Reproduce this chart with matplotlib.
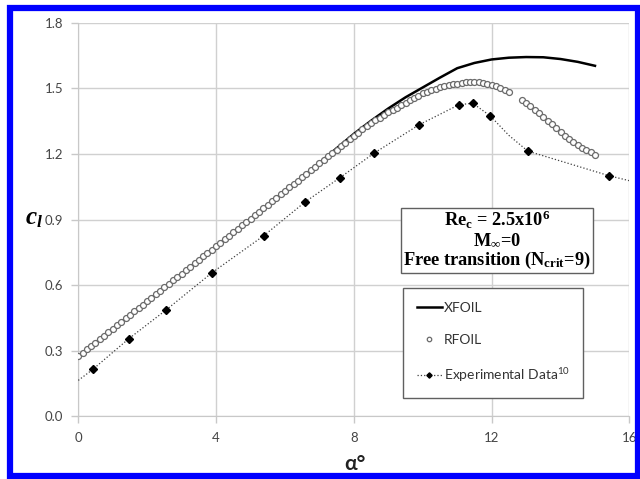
import matplotlib
matplotlib.use("Agg")
import matplotlib.pyplot as plt
from matplotlib.patches import Rectangle

plt.rcParams['mathtext.fontset'] = 'custom'
plt.rcParams['mathtext.rm'] = 'Liberation Serif:bold'
plt.rcParams['mathtext.it'] = 'Liberation Serif:bold:italic'
plt.rcParams['mathtext.bf'] = 'Liberation Serif:bold'
plt.rcParams['mathtext.sf'] = 'Lato'

# XFOIL polar
xfoil_alpha = [0.0, 0.5, 1.0, 1.5, 2.0, 2.5, 3.0, 3.5, 4.0, 4.5, 5.0, 5.5, 6.0, 6.5,
               7.0, 7.5, 8.0, 8.5, 9.0, 9.5, 10.0, 10.5, 11.0, 11.5, 12.0, 12.5,
               13.0, 13.5, 14.0, 14.5, 15.0]
xfoil_cl = [0.275, 0.338, 0.401, 0.464, 0.527, 0.590, 0.653, 0.716, 0.779, 0.842,
            0.905, 0.968, 1.031, 1.094, 1.159, 1.226, 1.292, 1.352, 1.408, 1.459,
            1.504, 1.549, 1.592, 1.616, 1.632, 1.640, 1.643, 1.642, 1.634, 1.621, 1.603]

# RFOIL polar
rfoil_alpha = [0.0, 0.125, 0.25, 0.375, 0.5, 0.625, 0.75, 0.875, 1.0, 1.125, 1.25, 1.375,
               1.5, 1.625, 1.75, 1.875, 2.0, 2.125, 2.25, 2.375, 2.5, 2.625, 2.75, 2.875,
               3.0, 3.125, 3.25, 3.375, 3.5, 3.625, 3.75, 3.875, 4.0, 4.125, 4.25, 4.375,
               4.5, 4.625, 4.75, 4.875, 5.0, 5.125, 5.25, 5.375, 5.5, 5.625, 5.75, 5.875,
               6.0, 6.125, 6.25, 6.375, 6.5, 6.625, 6.75, 6.875, 7.0, 7.125, 7.25, 7.375,
               7.5, 7.625, 7.75, 7.875, 8.0, 8.125, 8.25, 8.375, 8.5, 8.625, 8.75, 8.875,
               9.0, 9.125, 9.25, 9.375, 9.5, 9.625, 9.75, 9.875, 10.0, 10.125, 10.25, 10.375,
               10.5, 10.625, 10.75, 10.875, 11.0, 11.125, 11.25, 11.375, 11.5, 11.625, 11.75,
               11.875, 12.0, 12.125, 12.25, 12.375, 12.5,
               12.875, 13.0, 13.125, 13.25, 13.375, 13.5, 13.625, 13.75, 13.875, 14.0,
               14.125, 14.25, 14.375, 14.5, 14.625, 14.75, 14.875, 15.0]
rfoil_cl = [0.275, 0.291, 0.307, 0.322, 0.338, 0.354, 0.370, 0.385, 0.401, 0.417, 0.433, 0.448,
            0.464, 0.480, 0.496, 0.511, 0.527, 0.543, 0.559, 0.574, 0.590, 0.606, 0.622, 0.637,
            0.653, 0.669, 0.685, 0.700, 0.716, 0.732, 0.748, 0.763, 0.779, 0.795, 0.811, 0.826,
            0.842, 0.858, 0.874, 0.889, 0.905, 0.921, 0.937, 0.952, 0.968, 0.984, 1.000, 1.015,
            1.031, 1.047, 1.063, 1.078, 1.094, 1.110, 1.126, 1.141, 1.157, 1.173, 1.189, 1.204,
            1.220, 1.236, 1.252, 1.267, 1.283, 1.298, 1.313, 1.327, 1.341, 1.354, 1.366, 1.378,
            1.390, 1.401, 1.412, 1.422, 1.433, 1.445, 1.456, 1.467, 1.477, 1.485, 1.492, 1.499,
            1.505, 1.510, 1.515, 1.519, 1.522, 1.525, 1.527, 1.528, 1.529, 1.528, 1.526,
            1.522, 1.516, 1.509, 1.501, 1.492, 1.483,
            1.447, 1.433, 1.418, 1.402, 1.386, 1.369, 1.352, 1.335, 1.318, 1.300,
            1.282, 1.268, 1.255, 1.242, 1.229, 1.218, 1.207, 1.195]

# experimental data (first and last entries are the ends of the trend line)
exp_alpha = [0.0, 0.42, 1.47, 2.55, 3.88, 5.39, 6.58, 7.6, 8.58, 9.9, 11.05, 11.45,
             11.96, 12.5, 13.05, 15.42, 16.2]
exp_cl = [0.165, 0.215, 0.356, 0.487, 0.657, 0.827, 0.980, 1.092, 1.203, 1.334, 1.425,
          1.432, 1.374, 1.285, 1.213, 1.100, 1.070]
exp_marked = [1, 2, 3, 4, 5, 6, 7, 8, 9, 10, 11, 12, 14, 15]

xticks = [0, 4, 8, 12, 16]
yticks = [0.0, 0.3, 0.6, 0.9, 1.2, 1.5, 1.8]

fig = plt.figure(figsize=(6.4, 4.79), dpi=100)
ax = fig.add_axes([0.1223, 0.1305, 0.8612, 0.8221])

ax.plot(xfoil_alpha, xfoil_cl, color='black', lw=1.8, label='XFOIL', zorder=3)
ax.plot(rfoil_alpha, rfoil_cl, ls='none', marker='o', ms=4.3, mfc='white',
        mec='#6a6a6a', mew=0.9, label='RFOIL', zorder=4)
ax.plot(exp_alpha, exp_cl, color='#404040', ls=':', lw=0.9, marker='D', ms=3.6,
        mfc='black', mec='black', markevery=exp_marked,
        label=r'Experimental Data$^{\mathsf{10}}$', zorder=5)

ax.set_xlim(0, 16)
ax.set_ylim(0, 1.8)
ax.set_xticks(xticks)
ax.set_yticks(yticks)
ax.set_xticklabels([str(t) for t in xticks])
ax.set_yticklabels(['%.1f' % t for t in yticks])
ax.grid(True, color='#d0d0d0', lw=1.0)
ax.set_axisbelow(True)
for s in ['top', 'right']:
    ax.spines[s].set_visible(False)
for s in ['left', 'bottom']:
    ax.spines[s].set_color('#c8c8c8')
ax.tick_params(colors='#c8c8c8', length=5, width=1.0, labelcolor='#454545',
               labelsize=9.5, pad=6)
for lab in ax.get_xticklabels() + ax.get_yticklabels():
    lab.set_family('Lato')

# annotation box
ax.text(0.7594, 0.448, 'Re$_{\\mathrm{c}}$ = 2.5x10$^{6}$\nM$_{\\infty}$=0\nFree transition (N$_{\\mathrm{crit}}$=9)',
        transform=ax.transAxes, ha='center', va='center', fontsize=13.2,
        family='Liberation Serif', weight='bold', linespacing=1.05, zorder=6,
        bbox=dict(boxstyle='square,pad=0.12', fc='white', ec='#606060', lw=1.0))

leg = ax.legend(loc='upper left', bbox_to_anchor=(0.5885, 0.3263), fancybox=False,
                edgecolor='#606060', framealpha=1, prop={'family': 'Lato', 'size': 10},
                handlelength=1.8, handletextpad=0.15, labelspacing=1.45,
                borderpad=1.0, borderaxespad=0, markerscale=0.75)
leg.get_frame().set_linewidth(1.0)
for t in leg.get_texts():
    t.set_color('#333333')

fig.text(34 / 640, 1 - 218 / 479, r'$c_l$', fontsize=18, ha='center', va='center')
fig.text(355 / 640, 1 - 464 / 479, 'α°', fontsize=15, weight='bold', family='Lato',
         ha='center', va='center', color='#222222')

# blue frame around the figure
fig.patches.append(Rectangle((9.5 / 640, 3 / 479), 628 / 640, 468 / 479,
                             transform=fig.transFigure, fill=False, ec='#0000ff', lw=4.5))

fig.savefig('out.png', dpi=100)
